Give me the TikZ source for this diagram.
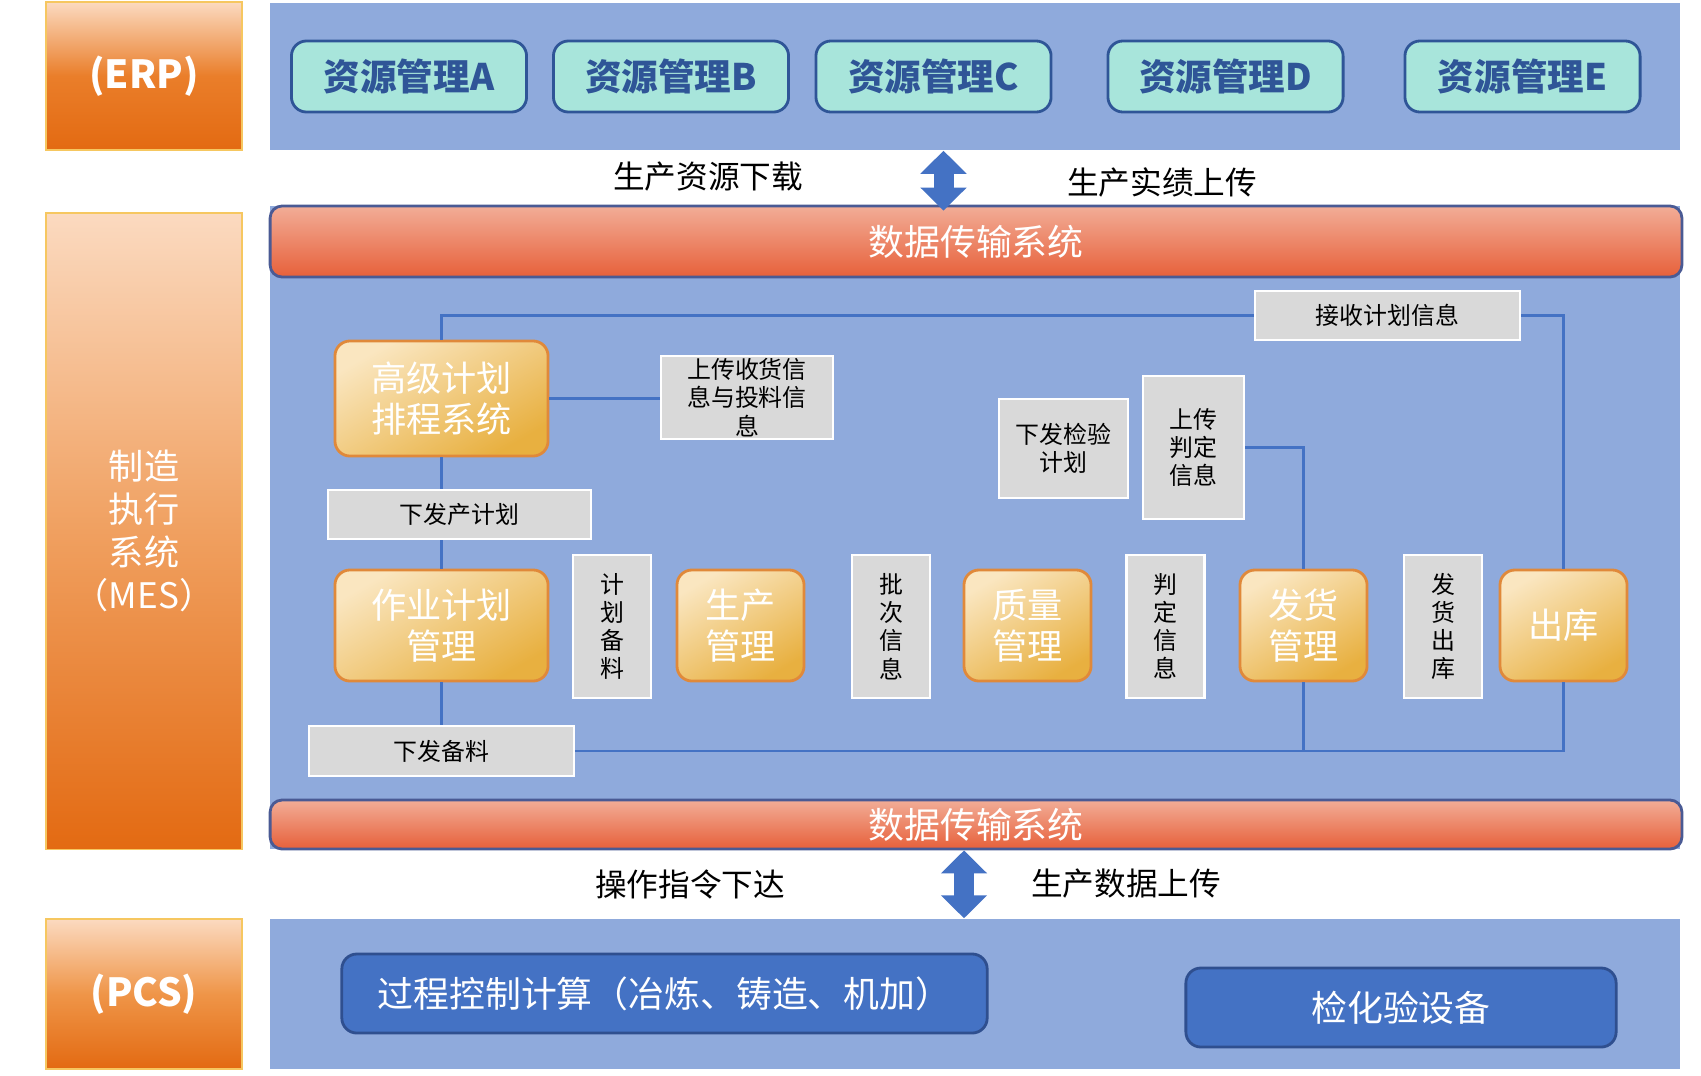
\documentclass[tikz,border=0pt]{standalone}
\usepackage{fontspec}
\setmainfont{Noto Sans CJK SC}
\usepackage{xcolor}
\definecolor{panelBlue}{HTML}{8FAADC}
\definecolor{resFill}  {HTML}{A8E5DB}
\definecolor{resDark}  {HTML}{2F5597}
\definecolor{linkBlue} {HTML}{4472C4}
\definecolor{pcsEdge}  {HTML}{2F4F8F}
\definecolor{infoGray} {HTML}{D9D9D9}
\definecolor{goldLight}{HTML}{FAE6C0}
\definecolor{goldDark} {HTML}{E8B040}
\definecolor{goldEdge} {HTML}{E0893A}
\definecolor{barTop}   {HTML}{F2AD97}
\definecolor{barBot}   {HTML}{E7603A}
\definecolor{barEdge}  {HTML}{4A5A94}
\definecolor{sideTop}  {HTML}{FBDAC0}
\definecolor{sideMid}  {HTML}{EA7E2A}
\definecolor{mesMid}   {HTML}{F0A060}
\definecolor{pcsMid}   {HTML}{EF9548}
\definecolor{sideBot}  {HTML}{E36A12}
\definecolor{sideEdge} {HTML}{F6C760}
\usetikzlibrary{arrows.meta, positioning, calc}
\tikzset{
    sidebox/.style={rectangle, draw=sideEdge, thin, top color=sideTop,
                    bottom color=sideBot, middle color=sideMid, text=white,
                    minimum width=1.96cm, inner sep=0pt, align=center},
    panel/.style={rectangle, fill=panelBlue, minimum width=14.1cm, inner sep=0pt},
    resbox/.style={rectangle, rounded corners=0.15cm, draw=resDark, line width=0.8pt,
                   fill=resFill, text=resDark, minimum width=2.35cm, minimum height=0.71cm,
                   font=\bfseries\fontsize{10.4}{12}\selectfont},
    databar/.style={rectangle, rounded corners=0.12cm, draw=barEdge, line width=0.8pt,
                    top color=barTop, bottom color=barBot, text=white,
                    minimum width=14.11cm, inner sep=0pt, font=\fontsize{10.2}{12}\selectfont},
    goldbox/.style={rectangle, rounded corners=0.15cm, draw=goldEdge, line width=0.8pt,
                    top color=goldLight, bottom color=goldDark, shading angle=30,
                    text=white, align=center, inner sep=0pt,
                    minimum width=1.27cm, minimum height=1.11cm,
                    font=\fontsize{10}{11.7}\selectfont},
    infobox/.style={rectangle, fill=infoGray, draw=white, line width=0.6pt,
                    align=center, inner sep=0pt, font=\fontsize{6.8}{8}\selectfont},
    vinfo/.style={infobox, minimum width=0.78cm, minimum height=1.43cm},
    pcsbox/.style={rectangle, rounded corners=0.15cm, draw=pcsEdge, line width=0.8pt,
                   fill=linkBlue, text=white, minimum height=0.79cm,
                   font=\fontsize{10.2}{12}\selectfont},
    flowtext/.style={inner sep=0pt, font=\fontsize{9}{11}\selectfont},
    link/.style={-, draw=linkBlue, line width=0.7pt},
    bigarrow/.style={{Triangle[width=4.5mm,length=2.3mm]}-{Triangle[width=4.5mm,length=2.3mm]},
                     draw=linkBlue, fill=linkBlue, line width=2mm},
}

\begin{document}
\begin{tikzpicture}[x=0.01cm, y=-0.01cm]
    \useasboundingbox (0,0) rectangle (1701,1075);
    % layer labels
    \node[sidebox, minimum height=1.48cm, font=\bfseries\fontsize{11}{13}\selectfont] (erp) at (144,76) {(ERP)};
    \node[sidebox, minimum height=6.36cm, middle color=mesMid, font=\fontsize{10}{12.3}\selectfont] (mes) at (144,531) {制造\\执行\\系统\\（MES）};
    \node[sidebox, minimum height=1.50cm, middle color=pcsMid, font=\bfseries\fontsize{11}{13}\selectfont] (pcs) at (144,994) {(PCS)};
    % panels
    \node[panel, minimum height=1.47cm] (erppanel) at (975,76.5) {};
    \node[panel, minimum height=6.43cm] (mespanel) at (975,527.5) {};
    \node[panel, minimum height=1.50cm] (pcspanel) at (975,994) {};
    % ERP resources
    \node[resbox] (resA) at (409,76.5) {资源管理A};
    \node[resbox] (resB) at (671,76.5) {资源管理B};
    \node[resbox] (resC) at (933.5,76.5) {资源管理C};
    \node[resbox] (resD) at (1225.5,76.5) {资源管理D};
    \node[resbox] (resE) at (1522.5,76.5) {资源管理E};
    % transfer bars
    \node[databar, minimum height=0.71cm] (bartop) at (976,241.5) {数据传输系统};
    \node[databar, minimum height=0.49cm] (barbot) at (976,824.5) {数据传输系统};
    \coordinate (arrowA) at (943.5,150);
    \coordinate (arrowB) at (964,850);
    \draw[bigarrow] (erppanel.south -| arrowA) -- ([yshift=-0.06cm]bartop.north -| arrowA);
    \draw[bigarrow] (barbot.south -| arrowB) -- (pcspanel.north -| arrowB);
    \node[flowtext] (dl) at (708,177) {生产资源下载};
    \node[flowtext] (ul) at (1162,182) {生产实绩上传};
    \node[flowtext] (cmd) at (690,884) {操作指令下达};
    \node[flowtext] (dat) at (1126,884) {生产数据上传};
    % MES modules
    \node[goldbox, minimum width=2.13cm, minimum height=1.15cm] (gaoji) at (441.5,398.5) {高级计划\\排程系统};
    \node[goldbox, minimum width=2.13cm] (zuoye) at (441.5,625.5) {作业计划\\管理};
    \node[goldbox] (shengchan) at (740.5,625.5) {生产\\管理};
    \node[goldbox] (zhiliang) at (1027.5,625.5) {质量\\管理};
    \node[goldbox] (fahuo) at (1303.5,625.5) {发货\\管理};
    \node[goldbox] (chuku) at (1563.5,625.5) {出库};
    % information tags
    \node[infobox, minimum width=2.65cm, minimum height=0.49cm] (recv) at (1387.5,315.5) {接收计划信息};
    \node[infobox, minimum width=1.72cm, minimum height=0.83cm] (upshou) at (747,397.5) {上传收货信\\息与投料信\\息};
    \node[infobox, minimum width=2.63cm, minimum height=0.49cm] (xfplan) at (459.5,514.5) {下发产计划};
    \node[infobox, minimum width=1.29cm, minimum height=0.99cm] (xfjy) at (1063.5,448.5) {下发检验\\计划};
    \node[infobox, minimum width=1.01cm, minimum height=1.43cm] (scpd) at (1193.5,447.5) {上传\\判定\\信息};
    \node[vinfo] (jhbl) at (612,626.5) {计\\划\\备\\料};
    \node[vinfo] (pici) at (891,626.5) {批\\次\\信\\息};
    \node[vinfo] (pdxx) at (1165.5,626.5) {判\\定\\信\\息};
    \node[vinfo] (fhck) at (1443,626.5) {发\\货\\出\\库};
    \node[infobox, minimum width=2.65cm, minimum height=0.50cm] (xfbl) at (441.5,751) {下发备料};
    % links
    \draw[link] (gaoji.north) -- (gaoji.north |- recv.west) -- (recv.west);
    \draw[link] (recv.east) -- (recv.east -| chuku.north) -- (chuku.north);
    \draw[link] (gaoji.east) -- (gaoji.east -| upshou.west);
    \draw[link] (gaoji.south) -- (gaoji.south |- xfplan.north);
    \draw[link] (gaoji.south |- xfplan.south) -- (zuoye.north);
    \draw[link] (zuoye.south) -- (xfbl.north);
    \draw[link] (xfbl.east) -- (xfbl.east -| chuku.south) -- (chuku.south);
    \draw[link] (fahuo.south) -- (fahuo.south |- xfbl.east);
    \draw[link] (scpd.east) -- (scpd.east -| fahuo.north) -- (fahuo.north);
    % PCS
    \node[pcsbox, minimum width=6.45cm] (guocheng) at (664.5,993.5) {过程控制计算（冶炼、铸造、机加）};
    \node[pcsbox, minimum width=4.30cm] (jianhua) at (1401,1007.5) {检化验设备};
\end{tikzpicture}
\end{document}
